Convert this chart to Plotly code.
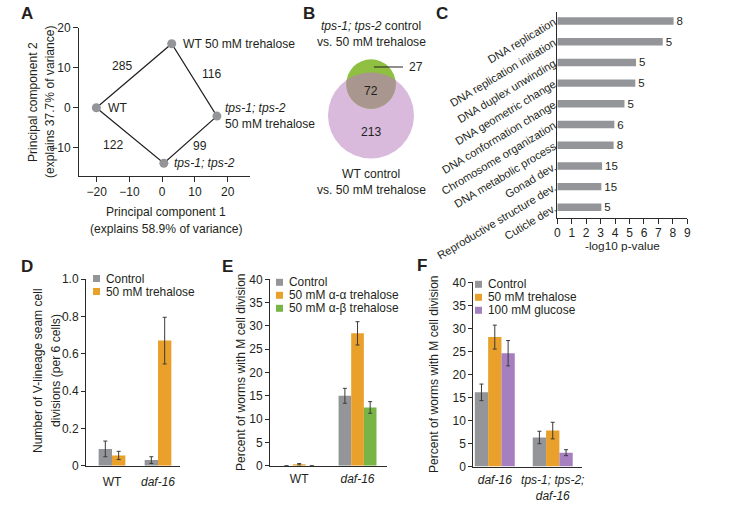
import numpy as np
import plotly.graph_objects as go

W, H = 736, 507
def X(px): return px / W
def Y(py): return 1 - py / H

FONT = "Liberation Sans, Arial, Helvetica, sans-serif"
TXT = "#231f20"
AX = "#2b2b2b"
GRAY = "#939598"
ORANGE = "#e9a12b"
GREEN = "#79b446"
PURPLE = "#a67fc0"
ERRC = "#3a3a3a"
FS = 12.1

# ---------------- Panel A data (PCA) ----------------
pca_samples = ["WT", "WT 50 mM trehalose", "<i>tps-1; tps-2</i><br>50 mM trehalose", "<i>tps-1; tps-2</i>"]
pc1 = [-20.1, 2.9, 16.7, 0.5]
pc2 = [0.0, 16.0, -2.1, -13.9]
edge_from = [0, 1, 2, 3]
edge_to = [1, 2, 3, 0]
edge_counts = [285, 116, 99, 122]

# ---------------- Panel B data (Venn) ----------------
venn_only_tps = 27
venn_shared = 72
venn_only_wt = 213

# ---------------- Panel C data (GO terms) ----------------
go_terms = ["DNA replication", "DNA replication initiation", "DNA duplex unwinding",
            "DNA geometric change", "DNA conformation change", "Chromosome organization",
            "DNA metabolic process", "Gonad dev.", "Reproductive structure dev.", "Cuticle dev."]
go_neglogp = [8.05, 7.3, 5.45, 5.4, 4.65, 3.95, 3.9, 3.1, 3.05, 3.05]
go_counts = [8, 5, 5, 5, 5, 6, 8, 15, 15, 5]

# ---------------- Panel D data ----------------
d_groups = ["WT", "<i>daf-16</i>"]
d_control = [0.09, 0.03]
d_control_err = [0.042, 0.018]
d_treh = [0.055, 0.67]
d_treh_err = [0.022, 0.125]

# ---------------- Panel E data ----------------
e_groups = ["WT", "<i>daf-16</i>"]
e_control = [0.0, 15.0]
e_control_err = [0.0, 1.6]
e_aa = [0.3, 28.4]
e_aa_err = [0.15, 2.5]
e_ab = [0.0, 12.5]
e_ab_err = [0.0, 1.25]

# ---------------- Panel F data ----------------
f_groups = ["<i>daf-16</i>", "<i>tps-1; tps-2;<br>daf-16</i>"]
f_control = [16.1, 6.3]
f_control_err = [1.8, 1.35]
f_treh = [28.1, 7.8]
f_treh_err = [2.6, 1.8]
f_gluc = [24.6, 3.0]
f_gluc_err = [2.75, 0.65]

d_legend = ["Control", "50 mM trehalose"]
e_legend = ["Control", "50 mM α-α trehalose", "50 mM α-β trehalose"]
f_legend = ["Control", "50 mM trehalose", "100 mM glucose"]

fig = go.Figure()
annotations = []
shapes = []

def ann(px, py, text, size=FS, xanchor="center", yanchor="middle", angle=0, bold=False, **kw):
    if bold:
        text = "<b>" + text + "</b>"
    annotations.append(dict(x=X(px), y=Y(py), xref="paper", yref="paper", text=text,
                            showarrow=False, xanchor=xanchor, yanchor=yanchor, textangle=angle,
                            font=dict(size=size, color=TXT, family=FONT), **kw))

# ---------- Panel A ----------
order = edge_from + [edge_from[0]]
fig.add_trace(go.Scatter(x=[pc1[i] for i in order], y=[pc2[i] for i in order], mode="lines",
                         line=dict(color=TXT, width=1.2), xaxis="x", yaxis="y", showlegend=False))
fig.add_trace(go.Scatter(x=pc1, y=pc2, mode="markers", marker=dict(size=9, color=GRAY),
                         xaxis="x", yaxis="y", showlegend=False))
label_shift = [10, 9, 6, 8]
for i, s in enumerate(pca_samples):
    annotations.append(dict(x=pc1[i], y=pc2[i], xref="x", yref="y", text=s, showarrow=False,
                            xanchor="left", yanchor="middle", xshift=label_shift[i], align="left",
                            font=dict(size=FS, color=TXT, family=FONT)))
edge_shift = [(-12, 10), (18, 6), (10, -6), (-17, -9.5)]
for k, c in enumerate(edge_counts):
    a, b = edge_from[k], edge_to[k]
    annotations.append(dict(x=(pc1[a] + pc1[b]) / 2, y=(pc2[a] + pc2[b]) / 2, xref="x", yref="y",
                            text=str(c), showarrow=False, xshift=edge_shift[k][0], yshift=edge_shift[k][1],
                            font=dict(size=FS, color=TXT, family=FONT)))
ann(166, 212, "Principal component 1")
ann(166, 229, "(explains 58.9% of variance)")
ann(33, 102, "Principal component 2", angle=-90)
ann(50, 102, "(explains 37.7% of variance)", angle=-90)

# ---------- Panel B (Venn) ----------
cb = (371.0, 115.5, 43.0)   # big circle (WT)
cs = (371.0, 84.0, 24.7)    # small circle (tps)
def circ(c, color):
    shapes.append(dict(type="circle", xref="paper", yref="paper",
                       x0=X(c[0] - c[2]), x1=X(c[0] + c[2]), y0=Y(c[1] + c[2]), y1=Y(c[1] - c[2]),
                       fillcolor=color, line=dict(width=0), layer="below"))
circ(cb, "#d9b9dc")
circ(cs, "#8fc042")
d = cb[1] - cs[1]
a_ = (cb[2] ** 2 - cs[2] ** 2 + d ** 2) / (2 * d)
h_ = np.sqrt(cb[2] ** 2 - a_ ** 2)
yi = cb[1] - a_
ang_b = np.degrees(np.arctan2(yi - cb[1], h_))
ang_s = np.degrees(np.arctan2(yi - cs[1], h_))
pts = []
for t in np.linspace(ang_b, -180 - ang_b, 60):
    pts.append((cb[0] + cb[2] * np.cos(np.radians(t)), cb[1] + cb[2] * np.sin(np.radians(t))))
for t in np.linspace(180 - ang_s, ang_s, 60):
    pts.append((cs[0] + cs[2] * np.cos(np.radians(t)), cs[1] + cs[2] * np.sin(np.radians(t))))
path = "M " + " L ".join(f"{X(px):.5f},{Y(py):.5f}" for px, py in pts) + " Z"
shapes.append(dict(type="path", xref="paper", yref="paper", path=path, fillcolor="#a9978f",
                   line=dict(width=0), layer="below"))
shapes.append(dict(type="line", xref="paper", yref="paper", x0=X(374), x1=X(403), y0=Y(67), y1=Y(67),
                   line=dict(color=TXT, width=1)))
ann(407, 67, str(venn_only_tps), xanchor="left")
ann(371, 91, str(venn_shared))
ann(371, 132, str(venn_only_wt))
ann(371, 26, "<i>tps-1; tps-2</i> control")
ann(371, 42, "vs. 50 mM trehalose")
ann(371, 174, "WT control")
ann(371, 190, "vs. 50 mM trehalose")

# ---------- Panel C ----------
fig.add_trace(go.Bar(x=go_neglogp, y=list(range(len(go_terms))), orientation="h", width=0.36,
                     marker=dict(color=GRAY, line=dict(width=0)), text=[str(c) for c in go_counts],
                     textposition="outside", cliponaxis=False, constraintext="none",
                     textfont=dict(size=11.5, color=TXT, family=FONT),
                     xaxis="x2", yaxis="y2", showlegend=False))
ann(622, 246, "-log10 p-value", size=11.8)

# ---------- Panel D ----------
fig.add_trace(go.Bar(x=[0, 1], y=d_control, width=0.29, offset=-0.29, marker=dict(color=GRAY, line=dict(width=0)),
                     error_y=dict(type="data", array=d_control_err, color=ERRC, thickness=1, width=2),
                     xaxis="x3", yaxis="y3", showlegend=False))
fig.add_trace(go.Bar(x=[0, 1], y=d_treh, width=0.29, offset=0.0, marker=dict(color=ORANGE, line=dict(width=0)),
                     error_y=dict(type="data", array=d_treh_err, color=ERRC, thickness=1, width=2),
                     xaxis="x3", yaxis="y3", showlegend=False))
ann(38, 371, "Number of V-lineage seam cell", angle=-90)
ann(56, 371, "divisions (per 6 cells)", angle=-90)

# ---------- Panel E ----------
for vals, errs, col, off in [(e_control, e_control_err, GRAY, -0.325), (e_aa, e_aa_err, ORANGE, -0.1083),
                             (e_ab, e_ab_err, GREEN, 0.1083)]:
    fig.add_trace(go.Bar(x=[0, 1], y=vals, width=0.2167, offset=off, marker=dict(color=col, line=dict(width=0)),
                         error_y=dict(type="data", array=errs, color=ERRC, thickness=1, width=2),
                         xaxis="x4", yaxis="y4", showlegend=False))
ann(241, 372, "Percent of worms with M cell division", angle=-90)

# ---------- Panel F ----------
for vals, errs, col, off in [(f_control, f_control_err, GRAY, -0.345), (f_treh, f_treh_err, ORANGE, -0.115),
                             (f_gluc, f_gluc_err, PURPLE, 0.115)]:
    fig.add_trace(go.Bar(x=[0, 1], y=vals, width=0.23, offset=off, marker=dict(color=col, line=dict(width=0)),
                         error_y=dict(type="data", array=errs, color=ERRC, thickness=1, width=2),
                         xaxis="x5", yaxis="y5", showlegend=False))
ann(434, 374, "Percent of worms with M cell division", angle=-90)

# ---------- manual legends ----------
def legend(labels, colors, x_sq, x_txt, ys, sz=7):
    for lab, col, yy in zip(labels, colors, ys):
        shapes.append(dict(type="rect", xref="paper", yref="paper", x0=X(x_sq), x1=X(x_sq + sz),
                           y0=Y(yy + sz / 2), y1=Y(yy - sz / 2), fillcolor=col, line=dict(width=0)))
        ann(x_txt, yy, lab, xanchor="left", size=11.9)
legend(d_legend, [GRAY, ORANGE], 93, 104, [278.5, 291.5])
legend(e_legend, [GRAY, ORANGE, GREEN], 276, 287, [282.3, 295.3, 308.3])
legend(f_legend, [GRAY, ORANGE, PURPLE], 475, 486, [284.3, 297.3, 310.3])

# ---------- panel letters ----------
for L, px, py in [("A", 27, 13), ("B", 309, 13), ("C", 442, 13), ("D", 27, 266), ("E", 227, 266), ("F", 422, 265)]:
    ann(px, py, L, size=17, bold=True)

# ---------- axes ----------
def axstyle(**kw):
    d = dict(showline=True, linecolor=AX, linewidth=1, showgrid=False, zeroline=False,
             ticks="outside", ticklen=4, tickcolor=AX, tickwidth=1, automargin=False,
             tickfont=dict(size=12, color=TXT, family=FONT), fixedrange=True)
    d.update(kw)
    return d

layout_axes = dict(
    xaxis=axstyle(domain=[X(79), X(250)], anchor="y", range=[-25.4, 26.8], tickvals=[-20, -10, 0, 10, 20], ticklen=5),
    yaxis=axstyle(domain=[Y(175.7), Y(27.7)], anchor="x", range=[-17, 20], tickvals=[-10, 0, 10, 20], ticklen=5),
    xaxis2=axstyle(domain=[X(557.3), X(687.3)], anchor="y2", range=[0, 9], tickvals=list(range(10)), ticklen=5,
                   ticklabelstandoff=-2),
    yaxis2=axstyle(domain=[Y(218.3), Y(11.7)], anchor="x2", range=[9.53, -0.45], tickvals=list(range(len(go_terms))),
                   ticktext=go_terms, ticks="", tickangle=-31, tickfont=dict(size=11.2, color=TXT, family=FONT)),
    xaxis3=axstyle(domain=[X(86), X(180)], anchor="y3", range=[-0.565, 1.478], tickvals=[0, 1], ticktext=d_groups, ticks="",
                   ticklabelstandoff=5),
    yaxis3=axstyle(domain=[Y(465.7), Y(279)], anchor="x3", range=[0, 1], tickvals=[0, 0.2, 0.4, 0.6, 0.8, 1.0],
                   ticktext=["0", "0.2", "0.4", "0.6", "0.8", "1.0"]),
    xaxis4=axstyle(domain=[X(270), X(386.7)], anchor="y4", range=[-0.5, 1.5], tickvals=[0, 1], ticktext=e_groups, ticks="",
                   ticklabelstandoff=2),
    yaxis4=axstyle(domain=[Y(465.7), Y(279.3)], anchor="x4", range=[0, 40], tickvals=list(range(0, 41, 5))),
    xaxis5=axstyle(domain=[X(473.3), X(581.7)], anchor="y5", range=[-0.371, 1.5], tickvals=[0, 1], ticktext=f_groups, ticks="",
                   ticklabelstandoff=2),
    yaxis5=axstyle(domain=[Y(466.5), Y(282.3)], anchor="x5", range=[0, 40], tickvals=list(range(0, 41, 5))),
)

fig.update_layout(
    width=W, height=H, autosize=False, margin=dict(l=0, r=0, t=0, b=0, autoexpand=False),
    paper_bgcolor="white", plot_bgcolor="white", barmode="overlay",
    font=dict(family=FONT, color=TXT, size=FS), showlegend=False,
    annotations=annotations, shapes=shapes, hovermode=False, **layout_axes)

fig.write_html("out.html", config={"displayModeBar": False, "staticPlot": True},
               post_script="document.body.style.margin='0';document.body.style.overflow='hidden';")
